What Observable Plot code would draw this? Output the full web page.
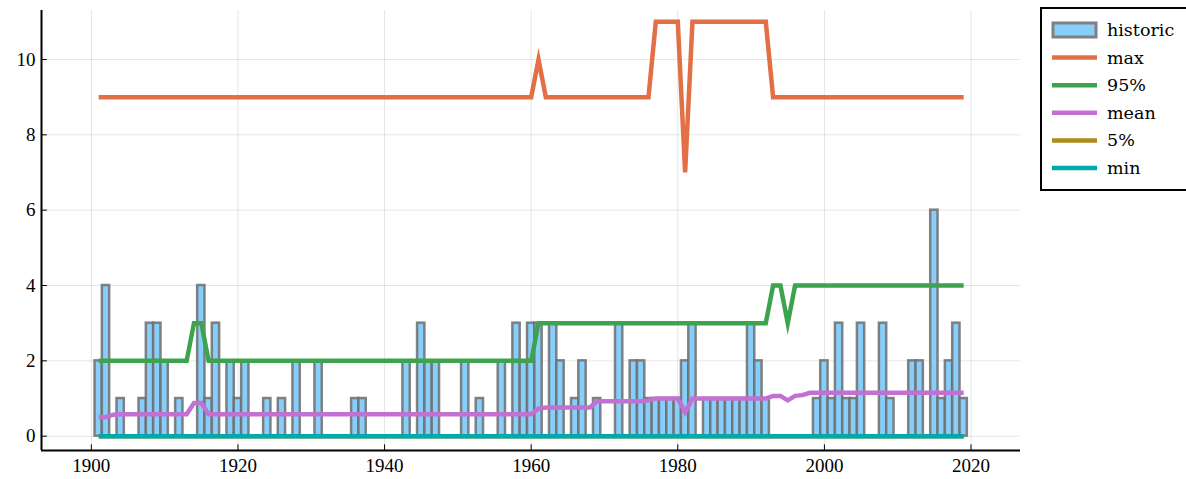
<!DOCTYPE html>
<html>
<head>
<meta charset="utf-8">
<script src="https://cdn.jsdelivr.net/npm/d3@7"></script>
<script src="https://cdn.jsdelivr.net/npm/@observablehq/plot@0.6"></script>
<style>
html, body { margin: 0; padding: 0; background: #fff; overflow: hidden; }
#wrap { position: relative; width: 1186px; height: 479px; }
#legend { position: absolute; left: 1040px; top: 7px; overflow: visible; }
.mainplot text { font-family: 'Liberation Serif', 'Times New Roman', serif !important; font-size: 19px !important; }
</style>
</head>
<body>
<div id="wrap"></div>
<script>
// ---- data (years 1901..2019) ----
const startYear = 1901;
const endYear = 2019;

const historic = [
  2,4,0,1,0,0,1,3,3,2,   // 1901-1910
  0,1,0,0,4,1,3,0,2,1,   // 1911-1920
  2,0,0,1,0,1,0,2,0,0,   // 1921-1930
  2,0,0,0,0,1,1,0,0,0,   // 1931-1940
  0,0,2,0,3,2,2,0,0,0,   // 1941-1950
  2,0,1,0,0,2,0,3,2,3,   // 1951-1960
  3,0,3,2,0,1,2,0,1,0,   // 1961-1970
  0,3,0,2,2,1,1,1,1,1,   // 1971-1980
  2,3,0,1,1,1,1,1,1,3,   // 1981-1990
  2,1,0,0,0,0,0,0,1,2,   // 1991-2000
  1,3,1,1,3,0,0,3,1,0,   // 2001-2010
  0,2,2,0,6,1,2,3,1      // 2011-2019
];

const maxVals = [
  9,9,9,9,9,9,9,9,9,9,
  9,9,9,9,9,9,9,9,9,9,
  9,9,9,9,9,9,9,9,9,9,
  9,9,9,9,9,9,9,9,9,9,
  9,9,9,9,9,9,9,9,9,9,
  9,9,9,9,9,9,9,9,9,9,
  10,9,9,9,9,9,9,9,9,9,
  9,9,9,9,9,9,11,11,11,11,
  7,11,11,11,11,11,11,11,11,11,
  11,11,9,9,9,9,9,9,9,9,
  9,9,9,9,9,9,9,9,9,9,
  9,9,9,9,9,9,9,9,9
];

const q95 = [
  2,2,2,2,2,2,2,2,2,2,
  2,2,2,3,3,2,2,2,2,2,
  2,2,2,2,2,2,2,2,2,2,
  2,2,2,2,2,2,2,2,2,2,
  2,2,2,2,2,2,2,2,2,2,
  2,2,2,2,2,2,2,2,2,2,
  3,3,3,3,3,3,3,3,3,3,
  3,3,3,3,3,3,3,3,3,3,
  3,3,3,3,3,3,3,3,3,3,
  3,3,4,4,3,4,4,4,4,4,
  4,4,4,4,4,4,4,4,4,4,
  4,4,4,4,4,4,4,4,4
];

const meanVals = [
  0.5,0.51,0.57,0.58,0.58,0.58,0.58,0.58,0.58,0.58,
  0.58,0.58,0.58,0.88,0.88,0.58,0.58,0.58,0.58,0.58,
  0.58,0.58,0.58,0.58,0.58,0.58,0.58,0.58,0.58,0.58,
  0.58,0.58,0.58,0.58,0.58,0.58,0.58,0.58,0.58,0.58,
  0.58,0.58,0.58,0.58,0.58,0.58,0.58,0.58,0.58,0.58,
  0.58,0.58,0.58,0.58,0.58,0.58,0.58,0.58,0.58,0.58,
  0.73,0.76,0.76,0.76,0.76,0.76,0.76,0.76,0.93,0.93,
  0.93,0.93,0.93,0.93,0.93,0.95,1,1,1,1,
  0.63,1,1,1,1,1,1,1,1,1,
  1,1,1.07,1.07,0.95,1.07,1.09,1.15,1.15,1.15,
  1.15,1.15,1.15,1.15,1.15,1.15,1.15,1.15,1.15,1.15,
  1.15,1.15,1.15,1.15,1.15,1.15,1.15,1.15,1.15
];

const q5 = [
  0,0,0,0,0,0,0,0,0,0, 0,0,0,0,0,0,0,0,0,0,
  0,0,0,0,0,0,0,0,0,0, 0,0,0,0,0,0,0,0,0,0,
  0,0,0,0,0,0,0,0,0,0, 0,0,0,0,0,0,0,0,0,0,
  0,0,0,0,0,0,0,0,0,0, 0,0,0,0,0,0,0,0,0,0,
  0,0,0,0,0,0,0,0,0,0, 0,0,0,0,0,0,0,0,0,0,
  0,0,0,0,0,0,0,0,0,0, 0,0,0,0,0,0,0,0,0
];

const minVals = [
  0,0,0,0,0,0,0,0,0,0, 0,0,0,0,0,0,0,0,0,0,
  0,0,0,0,0,0,0,0,0,0, 0,0,0,0,0,0,0,0,0,0,
  0,0,0,0,0,0,0,0,0,0, 0,0,0,0,0,0,0,0,0,0,
  0,0,0,0,0,0,0,0,0,0, 0,0,0,0,0,0,0,0,0,0,
  0,0,0,0,0,0,0,0,0,0, 0,0,0,0,0,0,0,0,0,0,
  0,0,0,0,0,0,0,0,0,0, 0,0,0,0,0,0,0,0,0
];

const seriesNames = ["max", "95%", "mean", "5%", "min"];
const seriesColors = ["#e26f46", "#3da44d", "#c271d2", "#ac8d18", "#00a9ad"];
const xTicks = [1900, 1920, 1940, 1960, 1980, 2000, 2020];
const yTicks = [0, 2, 4, 6, 8, 10];
const xDomain = [1893.2, 2026.75];
const yDomain = [-0.38, 11.3];

// ---- build tables ----
const years = d3.range(startYear, endYear + 1);
const bars = years.map((year, i) => ({year, value: historic[i]})).filter(d => d.value > 0);
const seriesValues = [maxVals, q95, meanVals, q5, minVals];
const lineMarks = seriesNames.map((name, s) =>
  Plot.line(years.map((year, i) => ({year, value: seriesValues[s][i]})), {
    x: "year", y: "value",
    stroke: seriesColors[s], strokeWidth: 4.5,
    strokeLinejoin: "miter", strokeMiterlimit: 10, strokeLinecap: "butt"
  })
);

const chart = Plot.plot({
  className: "mainplot",
  width: 1186,
  height: 479,
  marginLeft: 41,
  marginRight: 166,
  marginTop: 10,
  marginBottom: 29,
  x: {domain: xDomain},
  y: {domain: yDomain},
  style: {color: "#000", background: "#fff", overflow: "visible"},
  marks: [
    Plot.gridX(xTicks, {stroke: "#000", strokeOpacity: 0.1, strokeWidth: 1}),
    Plot.gridY(yTicks, {stroke: "#000", strokeOpacity: 0.1, strokeWidth: 1}),
    Plot.rectY(bars, {
      x1: d => d.year - 0.5, x2: d => d.year + 0.5, y1: 0, y2: "value",
      fill: "#87cefa", stroke: "#6e6e6e", strokeOpacity: 0.85, strokeWidth: 2.5
    }),
    ...lineMarks,
    Plot.ruleX(xTicks, {x: d => d, y1: yDomain[0], y2: yDomain[0] + 0.15, stroke: "#000", strokeWidth: 1}),
    Plot.ruleY(yTicks, {y: d => d, x1: xDomain[0], x2: xDomain[0] + 0.8, stroke: "#000", strokeWidth: 1}),
    Plot.ruleX([xDomain[0]], {stroke: "#000", strokeWidth: 2}),
    Plot.ruleY([yDomain[0]], {stroke: "#000", strokeWidth: 2}),
    Plot.axisX({ticks: xTicks, tickSize: 0, tickPadding: 8, tickFormat: d => String(d), label: null}),
    Plot.axisY({ticks: yTicks, tickSize: 0, tickPadding: 6, tickFormat: d => String(d), label: null})
  ]
});

const wrap = document.getElementById("wrap");
wrap.appendChild(chart);

// ---- legend ----
const ns = "http://www.w3.org/2000/svg";
const legend = document.createElementNS(ns, "svg");
legend.setAttribute("id", "legend");
legend.setAttribute("width", "160");
legend.setAttribute("height", "186");
const box = document.createElementNS(ns, "rect");
box.setAttribute("x", "1"); box.setAttribute("y", "1");
box.setAttribute("width", "160"); box.setAttribute("height", "182");
box.setAttribute("fill", "#fff"); box.setAttribute("stroke", "#000"); box.setAttribute("stroke-width", "2");
legend.appendChild(box);
const legendItems = ["historic", ...seriesNames];
legendItems.forEach((name, i) => {
  const cy = 23 + i * 27.6;
  if (i === 0) {
    const r = document.createElementNS(ns, "rect");
    r.setAttribute("x", "13"); r.setAttribute("y", cy - 7);
    r.setAttribute("width", "43"); r.setAttribute("height", "14");
    r.setAttribute("fill", "#87cefa"); r.setAttribute("stroke", "#808080"); r.setAttribute("stroke-width", "3");
    legend.appendChild(r);
  } else {
    const l = document.createElementNS(ns, "line");
    l.setAttribute("x1", "12"); l.setAttribute("x2", "57");
    l.setAttribute("y1", cy); l.setAttribute("y2", cy);
    l.setAttribute("stroke", seriesColors[i - 1]); l.setAttribute("stroke-width", "4.5");
    legend.appendChild(l);
  }
  const t = document.createElementNS(ns, "text");
  t.setAttribute("x", "67"); t.setAttribute("y", cy);
  t.setAttribute("dominant-baseline", "central");
  t.setAttribute("font-family", "'DejaVu Serif', serif");
  t.setAttribute("font-size", "17.5px");
  t.setAttribute("fill", "#000");
  t.textContent = name;
  legend.appendChild(t);
});
wrap.appendChild(legend);
</script>
</body>
</html>
